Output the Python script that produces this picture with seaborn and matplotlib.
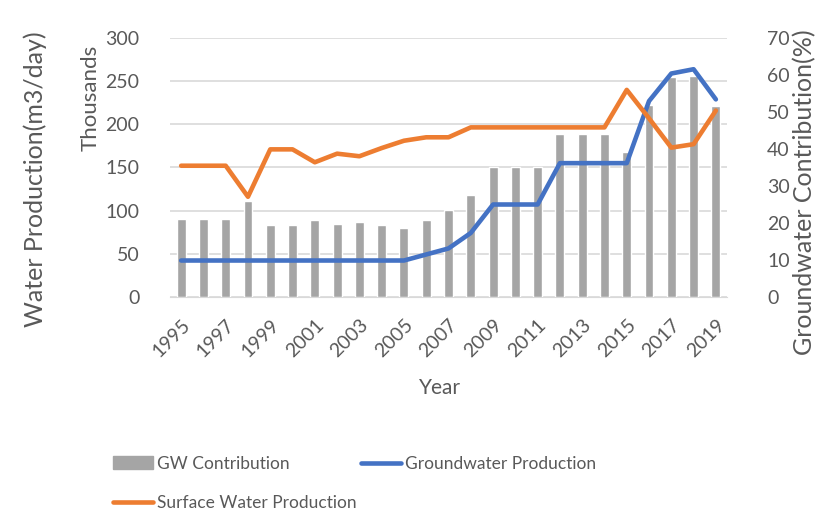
import numpy as np
import matplotlib
matplotlib.use("Agg")
import matplotlib.pyplot as plt
import seaborn as sns
from matplotlib.patches import Patch
from matplotlib.lines import Line2D

# =========================
# Data
# =========================
years = list(range(1995, 2020))
gw_contribution = [21.0, 21.0, 21.0, 26.0, 19.3, 19.3, 20.7, 19.7, 20.1, 19.3,
                   18.6, 20.7, 23.5, 27.5, 35.1, 35.1, 35.1, 44.0, 44.0, 44.0,
                   39.3, 52.0, 59.5, 59.8, 51.7]
groundwater_prod = [42, 42, 42, 42, 42, 42, 42, 42, 42, 42,
                    42, 49, 56, 74, 107, 107, 107, 155, 155, 155,
                    155, 227, 259, 264, 229]
surface_prod = [152, 152, 152, 116, 171, 171, 156, 166, 163, 172.5,
                181, 185, 185, 196.5, 196.5, 196.5, 196.5, 196.5, 196.5, 196.5,
                240, 207, 173, 177, 216]

bar_color = "#A5A5A5"
blue = "#4472C4"
orange = "#ED7D31"
text_color = "#595959"
grid_color = "#D9D9D9"

sns.set_style("white")
plt.rcParams["font.family"] = ["Lato", "DejaVu Sans"]

fig = plt.figure(figsize=(8.19, 5.14), dpi=100)
ax = fig.add_axes([170 / 819, 1 - 296.7 / 514, 557 / 819, 258.5 / 514])
ax2 = ax.twinx()
ax3 = ax.twinx()

pos = np.arange(len(years))

# bars on the right (percent) axis
sns.barplot(x=pos, y=gw_contribution, ax=ax2, color=bar_color, width=0.4,
            saturation=1, native_scale=True)

# lines on the left (thousands) scale
sns.lineplot(x=pos, y=groundwater_prod, ax=ax3, color=blue, linewidth=3.3)
sns.lineplot(x=pos, y=surface_prod, ax=ax3, color=orange, linewidth=3.3)

for a in (ax, ax2, ax3):
    for s in a.spines.values():
        s.set_visible(False)

ax.set_ylim(0, 300)
ax3.set_ylim(0, 300)
ax2.set_ylim(0, 70)

ax.set_yticks(range(0, 301, 50))
ax.yaxis.grid(True, color=grid_color, linewidth=1.2)
ax.spines["bottom"].set_visible(True)
ax.spines["bottom"].set_color(grid_color)
ax.tick_params(axis="y", length=0, pad=22, labelsize=14, labelcolor=text_color)

ax2.set_yticks(range(0, 71, 10))
ax2.tick_params(axis="y", length=0, pad=29, labelsize=14, labelcolor=text_color)
ax2.set_ylabel("")
fig.text(805 / 819, 1 - 192 / 514, "Groundwater Contribution(%)", rotation=90,
         fontsize=18, color=text_color, ha="center", va="center")

ax3.set_yticks([])
ax3.set_ylabel("")

# x ticks (shared by the twin axes) set last
ax.set_xlim(-0.5, len(years) - 0.5)
ax.set_xticks(pos[::2])
ax.set_xticklabels([str(y) for y in years[::2]], rotation=45, ha="right",
                   rotation_mode="anchor")
ax.tick_params(axis="x", length=0, labelsize=14, labelcolor=text_color, pad=14)
ax2.tick_params(axis="x", labelbottom=False)
ax3.tick_params(axis="x", labelbottom=False)
ax2.set_xlabel("")
ax3.set_xlabel("")

ax.set_ylabel("Thousands", fontsize=16, color=text_color)
ax.yaxis.set_label_coords((101 - 170) / 557, (296.7 - 98) / 258.5)
ax.set_xlabel("Year", fontsize=15, color=text_color)
ax.xaxis.set_label_coords((440 - 170) / 557, (296.7 - 388) / 258.5)
ax.xaxis.label.set_va("center")
fig.text(35 / 819, 1 - 179 / 514, "Water Production(m3/day)", rotation=90,
         fontsize=18, color=text_color, ha="center", va="center")

handles = [Patch(color=bar_color),
           Line2D([0], [0], color=orange, linewidth=3.3, solid_capstyle="round"),
           Line2D([0], [0], color=blue, linewidth=3.3, solid_capstyle="round")]
labels = ["GW Contribution", "Surface Water Production", "Groundwater Production"]
leg = fig.legend(handles, labels, ncol=2, loc="upper left",
                 bbox_to_anchor=(97 / 819, 1 - 440 / 514), frameon=False,
                 fontsize=12.5, handlelength=2.3, handletextpad=0.25,
                 columnspacing=0.25, labelspacing=1.35)
for t in leg.get_texts():
    t.set_color(text_color)

fig.savefig("out.png", dpi=100)
